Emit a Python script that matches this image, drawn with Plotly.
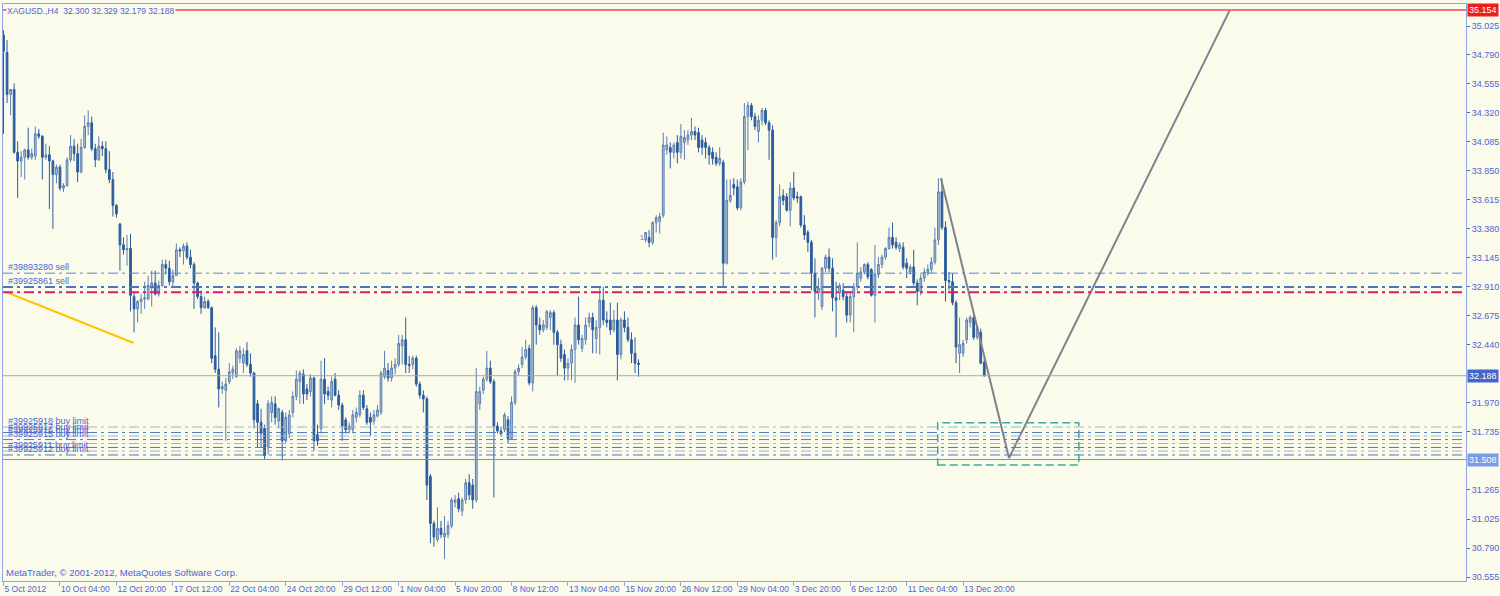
import plotly.graph_objects as go

BG = "#fbfbec"
TXT = "#4f63d2"
AX = "#8fa3e8"
FONT = "Liberation Sans"

# ---- XAGUSD H4 candles (bar 181 is a data gap) ----
opens = [34.95, 34.81, 34.47, 34.51, 34.00, 33.93, 33.96, 34.02, 33.96, 33.97,
         34.15, 34.13, 33.96, 33.98, 33.93, 33.82, 33.88, 33.71, 33.73, 33.94,
         34.05, 33.99, 33.84, 34.04, 34.21, 34.24, 34.03, 33.94, 34.05, 34.03,
         33.86, 33.78, 33.57, 33.42, 33.25, 33.21, 33.22, 32.83, 32.73, 32.79,
         32.81, 32.81, 32.90, 32.94, 32.85, 32.92, 33.09, 33.06, 32.95, 33.00,
         33.21, 33.20, 33.24, 33.15, 33.09, 32.94, 32.83, 32.74, 32.79, 32.74,
         32.35, 32.24, 32.08, 32.07, 32.14, 32.21, 32.18, 32.33, 32.29, 32.39,
         32.28, 32.21, 31.96, 31.81, 31.76, 31.61, 31.89, 31.96, 31.82, 31.89,
         31.66, 31.72, 31.89, 32.02, 32.14, 32.20, 32.08, 32.06, 32.17, 31.71,
         31.76, 32.16, 32.06, 31.99, 32.16, 32.03, 31.95, 31.83, 31.75, 31.75,
         31.85, 31.87, 32.03, 31.92, 31.85, 31.82, 31.86, 31.89, 32.18, 32.23,
         32.17, 32.25, 32.28, 32.43, 32.48, 32.28, 32.28, 32.33, 32.12, 32.03,
         32.00, 31.37, 30.99, 30.86, 30.95, 30.88, 30.90, 30.97, 31.16, 31.19,
         31.09, 31.18, 31.32, 31.30, 31.18, 31.96, 32.07, 32.16, 32.25, 32.14,
         31.78, 31.74, 31.75, 31.83, 31.68, 31.97, 32.22, 32.28, 32.34, 32.41,
         32.13, 32.74, 32.60, 32.56, 32.58, 32.66, 32.70, 32.54, 32.44, 32.36,
         32.25, 32.29, 32.40, 32.60, 32.41, 32.48, 32.62, 32.66, 32.49, 32.58,
         32.80, 32.64, 32.64, 32.56, 32.64, 32.36, 32.64, 32.58, 32.48, 32.37,
         32.29,
         33.29, 33.31, 33.27, 33.43, 33.44, 33.49, 34.02, 34.04, 34.00, 34.08,
         34.00, 34.08, 34.10, 34.14, 34.17, 34.16, 34.10, 34.08, 34.04, 34.00,
         33.96, 33.91, 33.92, 33.10, 33.61, 33.74, 33.72, 33.55, 33.76, 34.29,
         34.38, 34.29, 34.17, 34.26, 34.34, 34.24, 34.18, 33.31, 33.43, 33.65,
         33.64, 33.53, 33.71, 33.64, 33.64, 33.41, 33.35, 33.27, 33.02, 32.86,
         32.75, 33.06, 33.15, 33.06, 32.82, 32.86, 32.88, 32.83, 32.68, 32.83,
         32.91, 32.98, 33.03, 33.09, 33.05, 32.84, 33.01, 33.09, 33.15, 33.22,
         33.31, 33.27, 33.22, 33.23, 33.10, 33.03, 33.07, 32.94, 32.87, 32.98,
         33.02, 33.05, 33.11, 33.29, 33.68, 33.39, 32.96, 32.95, 32.78, 32.37,
         32.37, 32.48, 32.62, 32.66, 32.50, 32.54, 32.300]

highs = [34.99, 34.91, 34.51, 34.56, 34.09, 34.01, 34.03, 34.20, 34.03, 34.21,
         34.19, 34.14, 34.07, 34.05, 33.94, 33.90, 33.90, 33.75, 33.96, 34.14,
         34.11, 34.07, 34.11, 34.30, 34.34, 34.29, 34.07, 34.13, 34.09, 34.09,
         34.01, 33.84, 33.58, 33.42, 33.31, 33.33, 33.34, 32.87, 32.80, 32.85,
         32.95, 33.00, 33.04, 33.04, 32.96, 33.13, 33.13, 33.12, 33.05, 33.26,
         33.23, 33.26, 33.27, 33.21, 33.11, 32.95, 32.88, 32.83, 32.81, 32.75,
         32.58, 32.54, 32.14, 32.17, 32.29, 32.27, 32.41, 32.43, 32.41, 32.46,
         32.37, 32.22, 31.99, 31.92, 31.79, 31.99, 32.02, 32.02, 31.93, 31.91,
         31.89, 31.91, 32.06, 32.23, 32.23, 32.24, 32.12, 32.20, 32.18, 31.79,
         32.31, 32.33, 32.10, 32.18, 32.21, 32.07, 31.97, 31.85, 31.81, 31.91,
         31.93, 32.07, 32.07, 31.95, 31.89, 31.91, 31.95, 32.23, 32.39, 32.29,
         32.31, 32.33, 32.52, 32.52, 32.66, 32.35, 32.35, 32.35, 32.14, 32.07,
         32.02, 31.39, 31.01, 31.12, 31.01, 31.05, 31.01, 31.20, 31.22, 31.24,
         31.20, 31.35, 31.39, 31.35, 32.25, 32.10, 32.18, 32.39, 32.31, 32.16,
         31.81, 31.77, 31.89, 31.86, 32.02, 32.24, 32.28, 32.42, 32.48, 32.44,
         32.76, 32.76, 32.66, 32.64, 32.72, 32.72, 32.72, 32.56, 32.48, 32.40,
         32.33, 32.44, 32.66, 32.83, 32.52, 32.66, 32.70, 32.70, 32.64, 32.91,
         32.91, 32.71, 32.78, 32.72, 32.78, 32.66, 32.71, 32.66, 32.54, 32.50,
         32.32,
         33.35, 33.37, 33.44, 33.49, 33.51, 34.16, 34.13, 34.08, 34.08, 34.14,
         34.23, 34.18, 34.18, 34.28, 34.21, 34.20, 34.14, 34.12, 34.06, 34.04,
         34.00, 34.04, 33.94, 33.78, 33.78, 33.79, 33.78, 33.79, 34.40, 34.41,
         34.40, 34.32, 34.30, 34.36, 34.36, 34.26, 34.22, 33.45, 33.74, 33.70,
         33.67, 33.76, 33.84, 33.68, 33.65, 33.49, 33.37, 33.29, 33.14, 32.98,
         33.07, 33.17, 33.22, 33.14, 32.95, 32.94, 32.94, 32.86, 32.86, 32.94,
         33.27, 33.07, 33.10, 33.11, 33.06, 33.25, 33.15, 33.17, 33.23, 33.39,
         33.43, 33.31, 33.27, 33.27, 33.14, 33.09, 33.21, 32.97, 33.01, 33.06,
         33.09, 33.15, 33.39, 33.79, 33.78, 33.44, 33.03, 33.02, 32.80, 32.66,
         32.48, 32.66, 32.68, 32.68, 32.60, 32.57, 32.329]

lows = [34.15, 34.40, 34.30, 33.99, 33.63, 33.80, 33.78, 33.94, 33.94, 33.94,
        34.11, 33.78, 33.94, 33.54, 33.38, 33.75, 33.69, 33.68, 33.72, 33.92,
        33.93, 33.76, 33.83, 34.03, 34.14, 34.01, 33.88, 33.93, 33.97, 33.83,
        33.75, 33.48, 33.47, 33.04, 33.17, 33.08, 32.71, 32.54, 32.62, 32.69,
        32.73, 32.80, 32.75, 32.84, 32.83, 32.91, 33.01, 32.92, 32.90, 33.00,
        33.15, 33.09, 33.13, 33.06, 32.73, 32.81, 32.69, 32.73, 32.73, 32.29,
        32.21, 31.93, 32.04, 31.66, 32.12, 32.16, 32.17, 32.29, 32.21, 32.26,
        32.18, 31.76, 31.61, 31.61, 31.51, 31.55, 31.81, 31.79, 31.76, 31.50,
        31.64, 31.68, 31.85, 31.99, 31.96, 31.96, 31.99, 32.02, 31.58, 31.62,
        31.72, 31.96, 31.99, 31.93, 32.02, 31.91, 31.66, 31.72, 31.72, 31.72,
        31.81, 31.85, 31.91, 31.79, 31.70, 31.79, 31.85, 31.87, 32.16, 32.14,
        32.14, 32.20, 32.26, 32.28, 32.21, 32.21, 32.24, 32.10, 32.00, 31.89,
        31.18, 30.83, 30.80, 30.84, 30.87, 30.70, 30.87, 30.95, 31.12, 31.08,
        31.05, 31.15, 31.18, 31.11, 31.16, 31.91, 32.04, 32.14, 32.12, 31.20,
        31.72, 31.70, 31.73, 31.64, 31.67, 31.95, 32.19, 32.25, 32.32, 32.11,
        32.06, 32.44, 32.52, 32.54, 32.56, 32.56, 32.44, 32.19, 32.30, 32.15,
        32.15, 32.15, 32.13, 32.44, 32.38, 32.44, 32.58, 32.37, 32.37, 32.36,
        32.60, 32.58, 32.52, 32.54, 32.15, 32.32, 32.54, 32.46, 32.29, 32.21,
        32.18,
        33.27, 33.23, 33.25, 33.35, 33.34, 33.47, 33.98, 33.87, 33.95, 33.91,
        33.95, 33.94, 34.06, 34.10, 34.10, 34.00, 33.98, 33.95, 33.90, 33.90,
        33.89, 33.89, 32.91, 33.09, 33.59, 33.65, 33.53, 33.53, 33.74, 34.02,
        34.26, 34.18, 34.08, 34.22, 34.22, 33.94, 33.13, 33.15, 33.40, 33.57,
        33.52, 33.40, 33.61, 33.59, 33.39, 33.29, 33.19, 32.88, 32.66, 32.80,
        32.72, 33.03, 33.03, 32.71, 32.50, 32.80, 32.80, 32.62, 32.62, 32.54,
        32.88, 32.95, 33.01, 32.97, 32.83, 32.62, 32.98, 33.06, 33.13, 33.21,
        33.22, 33.21, 33.19, 33.05, 32.98, 33.01, 32.92, 32.76, 32.84, 32.95,
        33.00, 33.02, 33.09, 33.25, 33.37, 32.79, 32.88, 32.76, 32.29, 32.21,
        32.34, 32.45, 32.58, 32.48, 32.48, 32.28, 32.179]

closes = [34.82, 34.47, 34.51, 34.00, 33.93, 33.96, 34.02, 33.96, 33.99, 34.15,
          34.13, 33.96, 33.98, 33.93, 33.82, 33.88, 33.71, 33.73, 33.94, 34.05,
          33.99, 33.84, 34.04, 34.21, 34.24, 34.03, 33.94, 34.05, 34.03, 33.86,
          33.78, 33.57, 33.50, 33.25, 33.21, 33.22, 32.84, 32.73, 32.79, 32.81,
          32.82, 32.92, 32.94, 32.85, 32.92, 33.09, 33.06, 32.95, 33.00, 33.21,
          33.20, 33.24, 33.15, 33.09, 32.94, 32.83, 32.74, 32.79, 32.74, 32.33,
          32.24, 32.08, 32.10, 32.12, 32.22, 32.24, 32.39, 32.39, 32.36, 32.28,
          32.21, 31.83, 31.81, 31.72, 31.54, 31.96, 31.97, 31.85, 31.92, 31.66,
          31.85, 31.87, 32.02, 32.16, 32.21, 32.04, 32.04, 32.17, 31.66, 31.66,
          32.16, 32.04, 32.03, 32.14, 32.03, 31.95, 31.78, 31.75, 31.78, 31.87,
          31.89, 32.03, 31.93, 31.81, 31.81, 31.87, 31.91, 32.21, 32.25, 32.17,
          32.25, 32.28, 32.45, 32.48, 32.28, 32.27, 32.33, 32.12, 32.03, 32.00,
          31.30, 30.99, 30.88, 30.95, 30.90, 30.91, 30.97, 31.18, 31.18, 31.11,
          31.18, 31.32, 31.22, 31.18, 32.06, 32.06, 32.16, 32.25, 32.14, 31.78,
          31.74, 31.72, 31.87, 31.68, 31.97, 32.22, 32.25, 32.34, 32.40, 32.13,
          32.74, 32.60, 32.56, 32.60, 32.71, 32.70, 32.54, 32.44, 32.33, 32.25,
          32.29, 32.40, 32.60, 32.48, 32.49, 32.60, 32.66, 32.56, 32.58, 32.80,
          32.64, 32.62, 32.56, 32.64, 32.36, 32.64, 32.58, 32.48, 32.37, 32.29,
          32.28,
          33.35, 33.27, 33.43, 33.47, 33.48, 34.06, 34.06, 34.00, 34.06, 34.00,
          34.13, 34.12, 34.14, 34.17, 34.14, 34.04, 34.04, 34.04, 33.98, 33.95,
          33.91, 33.95, 33.10, 33.61, 33.65, 33.71, 33.55, 33.76, 34.29, 34.38,
          34.29, 34.21, 34.26, 34.34, 34.24, 34.18, 33.31, 33.43, 33.64, 33.61,
          33.53, 33.71, 33.63, 33.63, 33.41, 33.33, 33.27, 33.02, 32.87, 32.90,
          33.06, 33.15, 33.06, 32.82, 32.80, 32.92, 32.83, 32.68, 32.83, 32.91,
          33.02, 33.03, 33.09, 32.99, 32.84, 33.01, 33.09, 33.15, 33.22, 33.31,
          33.25, 33.23, 33.25, 33.07, 33.06, 33.07, 32.94, 32.87, 32.98, 33.03,
          33.05, 33.11, 33.29, 33.68, 33.39, 32.96, 32.95, 32.78, 32.42, 32.44,
          32.45, 32.64, 32.66, 32.50, 32.58, 32.29, 32.188]

# bar positions (one empty slot at 181 where history is missing)
bar_index = list(range(0, 181)) + list(range(182, 279))

# ---- axis labels ----
price_ticks = [35.025, 34.790, 34.555, 34.320, 34.085, 33.850, 33.615, 33.380,
               33.145, 32.910, 32.675, 32.440, 31.970, 31.735, 31.265, 31.025,
               30.790, 30.555]
time_tick_bars = [0, 16, 32, 48, 64, 80, 96, 112, 128, 144, 160, 176, 192,
                  208, 224, 240, 256, 272]
time_tick_labels = ["5 Oct 2012", "10 Oct 04:00", "12 Oct 20:00", "17 Oct 12:00",
                    "22 Oct 04:00", "24 Oct 20:00", "29 Oct 12:00", "1 Nov 04:00",
                    "5 Nov 20:00", "8 Nov 12:00", "13 Nov 04:00", "15 Nov 20:00",
                    "26 Nov 12:00", "29 Nov 04:00", "3 Dec 20:00", "6 Dec 12:00",
                    "11 Dec 04:00", "13 Dec 20:00"]

# ---- objects on chart ----
header_text = "XAGUSD.,H4  32.300 32.329 32.179 32.188"
copyright_text = "MetaTrader, © 2001-2012, MetaQuotes Software Corp."
target_level = 35.154
bid_level = 32.188
line_level = 31.508
sell_labels = ["#39893280 sell", "#39925861 sell"]
sell_levels = [33.020, 32.907]
stop_level = 32.865
buy_labels = ["#39925918 buy limit", "#39925917 buy limit", "#39925916 buy limit",
              "#39925915 buy limit", "#39925911 buy limit", "#39925912 buy limit"]
buy_levels = [31.772, 31.727, 31.699, 31.670, 31.577, 31.545]
other_levels = [31.638, 31.606]
trend_x = [0.7, 36.9]
trend_y = [32.867, 32.453]
zig_x = [265.7, 285.0, 347.6]
zig_y = [33.792, 31.521, 35.154]
box_x = [264.8, 304.8]
box_y = [31.464, 31.807]
arrow_bar, arrow_price = 181, 33.31

fig = go.Figure()
fig.add_trace(go.Candlestick(
    x=bar_index, open=opens, high=highs, low=lows, close=closes,
    increasing=dict(line=dict(color="#5a7fb0", width=1), fillcolor="#b4c6dc"),
    decreasing=dict(line=dict(color="#2c5c9c", width=1), fillcolor="#2c5c9c"),
    whiskerwidth=0, showlegend=False, hoverinfo="skip"))

fig.add_trace(go.Scatter(x=zig_x, y=zig_y, mode="lines",
                         line=dict(color="#80808f", width=2),
                         showlegend=False, hoverinfo="skip"))
fig.add_trace(go.Scatter(x=trend_x, y=trend_y, mode="lines",
                         line=dict(color="#ffc400", width=2),
                         showlegend=False, hoverinfo="skip"))

DD = "10px,4px,3px,4px"
shapes = []
def hline(y, color, width=1, dash="solid"):
    shapes.append(dict(type="line", xref="paper", x0=0, x1=1, yref="y", y0=y, y1=y,
                       line=dict(color=color, width=width, dash=dash)))

hline(target_level, "#f04848", 1.5)
hline(sell_levels[0], "#5b86c6", 1, DD)
hline(sell_levels[1], "#4a78b8", 2, DD)
hline(stop_level, "#dc1a78", 2, DD)
hline(bid_level, "#a8a8a8", 1)
hline(line_level, "#6e8fdc", 1)
for i, lv in enumerate(buy_levels + other_levels):
    hline(lv, "#9db3d2" if i % 2 == 0 else "#4a7abf", 1, DD)
shapes.append(dict(type="rect", xref="x", yref="y", x0=box_x[0], x1=box_x[1],
                   y0=box_y[0], y1=box_y[1],
                   line=dict(color="#45a89c", width=1.5, dash="8px,4px")))

ann = []
ann.append(dict(xref="paper", yref="paper", x=0, y=1, xanchor="left", yanchor="top",
                xshift=3, yshift=-1, text=header_text, showarrow=False,
                bgcolor=BG, borderpad=0, font=dict(family=FONT, size=8.5, color=TXT)))
ann.append(dict(xref="paper", yref="paper", x=0, y=0, xanchor="left", yanchor="bottom",
                xshift=1, yshift=1, text=copyright_text, showarrow=False,
                font=dict(family=FONT, size=9.5, color=TXT)))
for lab, lv in zip(sell_labels, sell_levels):
    ann.append(dict(xref="paper", yref="y", x=0, y=lv, xanchor="left", yanchor="bottom",
                    xshift=3, yshift=-1, text=lab, showarrow=False,
                    font=dict(family=FONT, size=9, color=TXT)))
for lab, lv in zip(buy_labels, buy_levels):
    ann.append(dict(xref="paper", yref="y", x=0, y=lv, xanchor="left", yanchor="bottom",
                    xshift=3, yshift=-1, text=lab, showarrow=False,
                    font=dict(family=FONT, size=9, color=TXT)))
for val, bg in [(target_level, "#ee1c1c"), (bid_level, "#4466cc"), (line_level, "#7b9ae4")]:
    ann.append(dict(xref="paper", yref="y", x=1, y=val, xanchor="left", yanchor="middle",
                    xshift=1, text=f"{val:.3f}", showarrow=False, bgcolor=bg, borderpad=1,
                    font=dict(family=FONT, size=9, color="white")))
ann.append(dict(xref="x", yref="y", x=arrow_bar, y=arrow_price, text="1", showarrow=False,
                font=dict(family=FONT, size=7, color="#e04010")))

fig.update_layout(
    width=1500, height=596,
    margin=dict(l=3, r=34, t=4, b=15, autoexpand=False),
    paper_bgcolor=BG, plot_bgcolor=BG,
    shapes=shapes, annotations=ann,
    xaxis=dict(range=[-0.15, 414.55], showgrid=False, zeroline=False, automargin=False,
               showline=True, mirror=True, linecolor=AX, linewidth=1,
               tickvals=time_tick_bars, ticktext=time_tick_labels, tickangle=0,
               ticks="outside", ticklen=4, tickcolor=AX,
               ticklabelposition="outside right",
               tickfont=dict(family=FONT, size=8.5, color=TXT),
               rangeslider=dict(visible=False), fixedrange=True),
    yaxis=dict(range=[30.5227, 35.2035], side="right", showgrid=False, zeroline=False,
               automargin=False,
               showline=True, mirror=True, linecolor=AX, linewidth=1,
               tickvals=price_ticks, ticktext=[f"{v:.3f}" for v in price_ticks],
               ticks="outside", ticklen=3, tickcolor=TXT,
               tickfont=dict(family=FONT, size=9, color=TXT), fixedrange=True),
)

fig.write_html("out.html", config={"displayModeBar": False, "staticPlot": True},
               post_script="document.body.style.margin='0';document.body.style.padding='0';"
                           "document.body.style.overflow='hidden';"
                           f"document.body.style.background='{BG}';")
